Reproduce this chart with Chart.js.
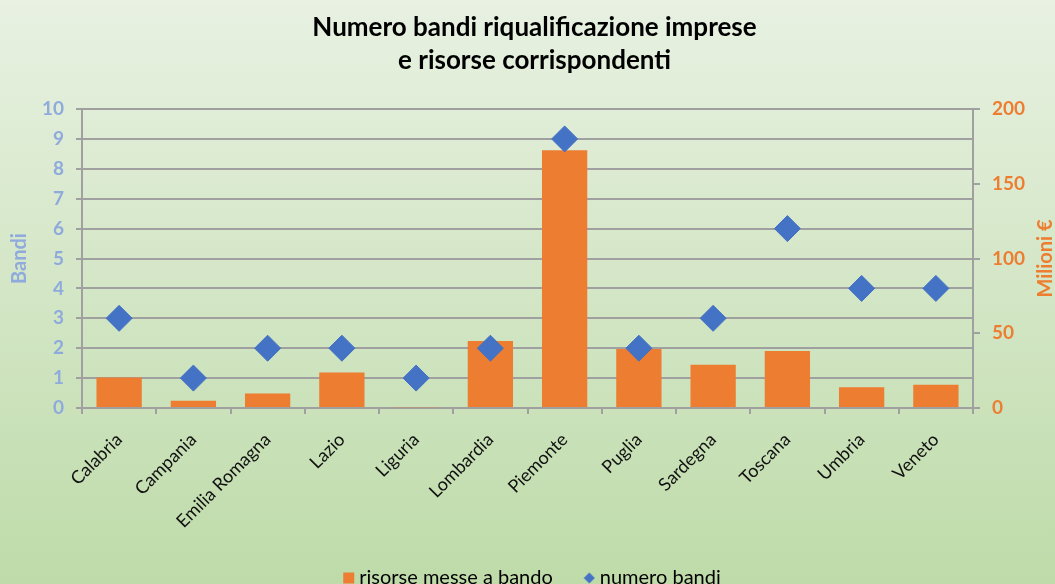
<!DOCTYPE html>
<html>
<head>
<meta charset="utf-8">
<script src="https://cdn.jsdelivr.net/npm/chart.js@4/dist/chart.umd.min.js"></script>
<style>
  html, body { margin: 0; padding: 0; }
  #wrap { width: 1055px; height: 584px; position: relative; }
</style>
</head>
<body>
<div id="wrap"><canvas id="chart"></canvas></div>
<script>
// data
var regioni = ["Calabria", "Campania", "Emilia Romagna", "Lazio", "Liguria", "Lombardia",
               "Piemonte", "Puglia", "Sardegna", "Toscana", "Umbria", "Veneto"];
var risorse = [20.4, 4.9, 9.7, 23.7, 0.5, 44.9, 172.4, 39.5, 28.9, 38.2, 13.8, 15.5]; // milioni €
var numeroBandi = [3, 1, 2, 2, 1, 2, 9, 2, 3, 6, 4, 4];
var titolo = ["Numero bandi riqualificazione imprese", "e risorse corrispondenti"];

var ARANCIO = "#ed7d31";
var BLU = "#4472c4";
var AZZURRO = "#8faadc";
var GRIGIO = "#a0a0a0";
var FONT = "Lato, 'Open Sans', sans-serif";

// small diamond for the legend
var diamante = document.createElement("canvas");
diamante.width = 12; diamante.height = 12;
(function () {
  var c = diamante.getContext("2d");
  c.fillStyle = BLU;
  c.beginPath();
  c.moveTo(6, 0.5); c.lineTo(11.5, 6); c.lineTo(6, 11.5); c.lineTo(0.5, 6);
  c.closePath();
  c.fill();
})();

var sfondo = {
  id: "sfondo",
  beforeDraw: function (chart) {
    var ctx = chart.ctx;
    var g = ctx.createLinearGradient(0, 0, 0, chart.height);
    g.addColorStop(0, "#e8f1e2");
    g.addColorStop(1, "#bedba9");
    ctx.save();
    ctx.fillStyle = g;
    ctx.fillRect(0, 0, chart.width, chart.height);
    ctx.restore();
  }
};

// right axis title reads bottom-to-top like the left one
var titoloDestro = {
  id: "titoloDestro",
  afterDraw: function (chart) {
    var ctx = chart.ctx;
    var a = chart.chartArea;
    ctx.save();
    ctx.translate(1046, (a.top + a.bottom) / 2);
    ctx.rotate(-Math.PI / 2);
    ctx.font = "bold 20px " + FONT;
    ctx.fillStyle = ARANCIO;
    ctx.textAlign = "center";
    ctx.textBaseline = "middle";
    ctx.fillText("Milioni €", 0, 0);
    ctx.restore();
  }
};

var ctx = document.getElementById("chart").getContext("2d");
new Chart(ctx, {
  type: "bar",
  data: {
    labels: regioni,
    datasets: [
      {
        type: "bar",
        label: "risorse messe a bando",
        data: risorse,
        yAxisID: "y1",
        backgroundColor: ARANCIO,
        borderWidth: 0,
        barPercentage: 0.61,
        categoryPercentage: 1,
        pointStyle: "rect",
        order: 1
      },
      {
        type: "line",
        label: "numero bandi",
        data: numeroBandi,
        yAxisID: "y",
        showLine: false,
        pointStyle: "rectRot",
        pointRadius: 13,
        pointHoverRadius: 13,
        pointBackgroundColor: BLU,
        pointBorderColor: BLU,
        pointBorderWidth: 1,
        backgroundColor: BLU,
        borderColor: BLU,
        order: 0
      }
    ]
  },
  options: {
    responsive: true,
    maintainAspectRatio: false,
    animation: false,
    layout: { padding: { top: 0, bottom: -14, left: 14, right: 0 } },
    plugins: {
      title: {
        display: true,
        text: titolo,
        color: "#000",
        font: { family: FONT, size: 26, weight: "bold", lineHeight: 1.27 },
        padding: { top: 11, bottom: 32 }
      },
      legend: {
        position: "bottom",
        labels: {
          usePointStyle: true,
          boxHeight: 11,
          boxWidth: 1,
          color: "#000",
          font: { family: FONT, size: 20 },
          padding: 36,
          sort: function (a, b) { return a.datasetIndex - b.datasetIndex; },
          generateLabels: function (chart) {
            var items = Chart.defaults.plugins.legend.labels.generateLabels(chart);
            items.forEach(function (it) {
              if (it.datasetIndex === 1) it.pointStyle = diamante;
              it.lineWidth = 0;
            });
            return items;
          }
        }
      },
      tooltip: { enabled: false }
    },
    scales: {
      x: {
        grid: { drawOnChartArea: false, drawTicks: true, tickLength: 6, color: GRIGIO, lineWidth: 2 },
        border: { color: GRIGIO, width: 2 },
        ticks: {
          color: "#111",
          font: { family: FONT, size: 18 },
          minRotation: 45,
          maxRotation: 45,
          padding: 15
        },
        afterFit: function (s) { s.height = 124; }
      },
      y: {
        position: "left",
        min: 0,
        max: 10,
        ticks: {
          stepSize: 1,
          color: AZZURRO,
          font: { family: FONT, size: 19, weight: "bold" },
          padding: 12
        },
        grid: { color: GRIGIO, lineWidth: 2, tickLength: 6 },
        border: { color: GRIGIO, width: 2 },
        title: {
          display: true,
          text: "Bandi",
          color: AZZURRO,
          font: { family: FONT, size: 20, weight: "bold" },
          padding: { top: -6, bottom: 0 }
        },
        afterFit: function (s) { s.width = 68; }
      },
      y1: {
        position: "right",
        min: 0,
        max: 200,
        ticks: {
          stepSize: 50,
          color: ARANCIO,
          font: { family: FONT, size: 19, weight: "bold" },
          padding: 12
        },
        grid: { drawOnChartArea: false, color: GRIGIO, lineWidth: 2, tickLength: 7 },
        border: { color: GRIGIO, width: 2 },
        afterFit: function (s) { s.width = 82; }
      }
    }
  },
  plugins: [sfondo, titoloDestro]
});
</script>
</body>
</html>
